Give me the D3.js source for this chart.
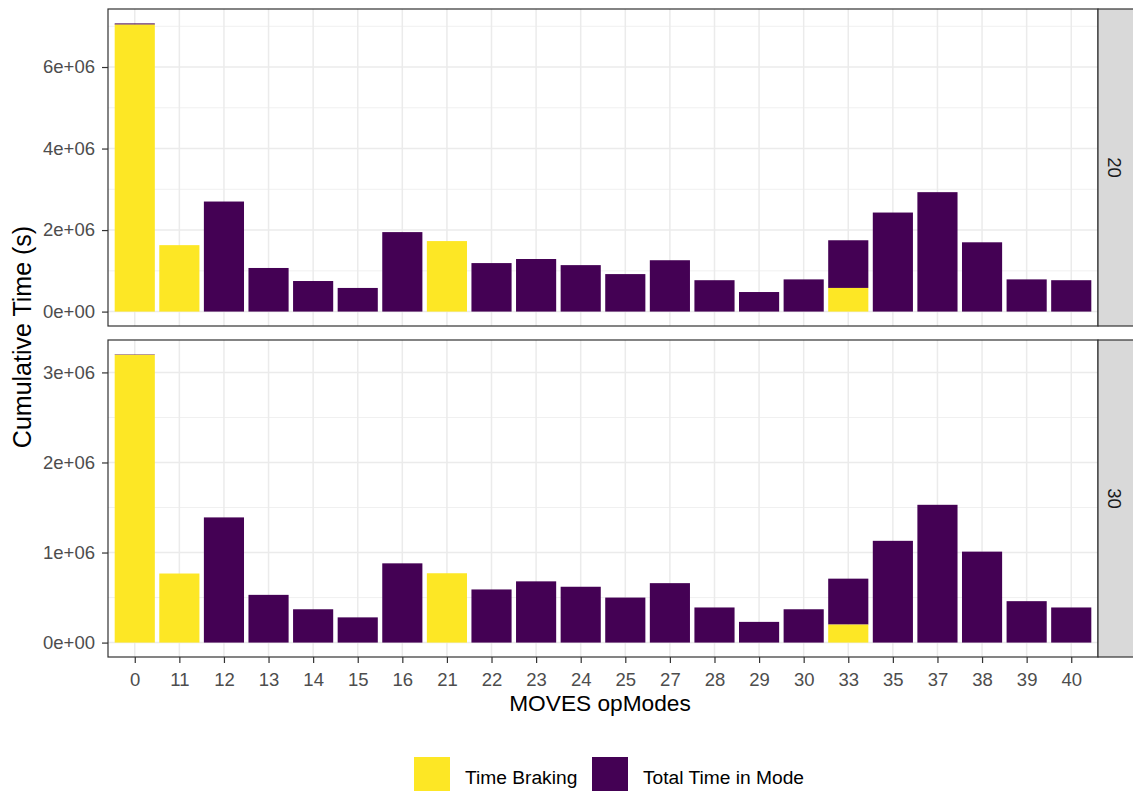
<!DOCTYPE html>
<html>
<head>
<meta charset="utf-8">
<script src="https://cdn.jsdelivr.net/npm/d3@7"></script>
<style>
  body { margin: 0; background: #fff; }
  text { font-family: "Liberation Sans", Arial, sans-serif; }
  .tick text { fill: #4d4d4d; font-size: 18.5px; font-family: "Liberation Sans", Arial, sans-serif; }
  .tick line { stroke: #333; }
  .domain { display: none; }
</style>
</head>
<body>
<div id="chart"></div>
<script>
// opModes on the x axis
var opModes = ["0","11","12","13","14","15","16","21","22","23","24","25","27","28","29","30","33","35","37","38","39","40"];

// facet 20
var total20   = [7.07e6,1.63e6,2.70e6,1.07e6,0.75e6,0.58e6,1.95e6,1.73e6,1.19e6,1.29e6,1.14e6,0.92e6,1.26e6,0.77e6,0.48e6,0.79e6,1.75e6,2.43e6,2.93e6,1.70e6,0.79e6,0.77e6];
var braking20 = [7.04e6,1.63e6,0,0,0,0,0,1.73e6,0,0,0,0,0,0,0,0,0.58e6,0,0,0,0,0];

// facet 30
var total30   = [3.20e6,0.767e6,1.39e6,0.53e6,0.37e6,0.28e6,0.88e6,0.77e6,0.59e6,0.68e6,0.62e6,0.50e6,0.66e6,0.39e6,0.23e6,0.37e6,0.71e6,1.13e6,1.53e6,1.01e6,0.46e6,0.39e6];
var braking30 = [3.195e6,0.767e6,0,0,0,0,0,0.77e6,0,0,0,0,0,0,0,0,0.20e6,0,0,0,0,0];

var facets = ["20", "30"];
var yTicks = [[0,2e6,4e6,6e6],[0,1e6,2e6,3e6]];
var seriesNames = ["Time Braking", "Total Time in Mode"];
var colors = {"Time Braking": "#FDE725", "Total Time in Mode": "#440154"};

var W = 1133, H = 791;
var svg = d3.select("#chart").append("svg").attr("width", W).attr("height", H);

var left = 108, right = 1098, stripW = 36;
var panels = [{top: 9, bottom: 326}, {top: 340, bottom: 657}];
var data = [[total20, braking20], [total30, braking30]];

// discrete scale with ggplot-style 0.6 expansion
var step = (right - left) / (opModes.length - 1 + 1.2);
var x = d3.scalePoint().domain(opModes).range([left + 0.6 * step, right - 0.6 * step]);
var barW = step * 0.9;

function fmt(v) {
  if (v === 0) return "0e+00";
  var e = Math.floor(Math.log10(v));
  return Math.round(v / Math.pow(10, e)) + "e+" + (e < 10 ? "0" + e : e);
}

panels.forEach(function(p, i) {
  var tot = data[i][0], brk = data[i][1];
  var M = d3.max(tot);
  var y = d3.scaleLinear().domain([-0.05 * M, 1.05 * M]).range([p.bottom, p.top]);

  var g = svg.append("g");
  g.append("rect").attr("x", left).attr("y", p.top).attr("width", right - left).attr("height", p.bottom - p.top)
    .attr("fill", "#fff");

  // minor grid
  var tk = yTicks[i];
  var minor = [];
  for (var k = 0; k < tk.length; k++) {
    var mv = tk[k] + (tk[1] - tk[0]) / 2;
    if (y(mv) > p.top) minor.push(mv);
  }
  g.selectAll(".minor").data(minor).enter().append("line")
    .attr("x1", left).attr("x2", right).attr("y1", d => y(d)).attr("y2", d => y(d))
    .attr("stroke", "#f0f0f0").attr("stroke-width", 1);
  // major grid
  g.selectAll(".hmajor").data(tk).enter().append("line")
    .attr("x1", left).attr("x2", right).attr("y1", d => y(d)).attr("y2", d => y(d))
    .attr("stroke", "#ebebeb").attr("stroke-width", 1.5);
  g.selectAll(".vmajor").data(opModes).enter().append("line")
    .attr("x1", d => x(d)).attr("x2", d => x(d)).attr("y1", p.top).attr("y2", p.bottom)
    .attr("stroke", "#ebebeb").attr("stroke-width", 1.5);

  // braking at the bottom, rest of total stacked on top
  g.selectAll(".tot").data(opModes.filter((d, j) => tot[j] > brk[j])).enter().append("rect")
    .attr("x", d => x(d) - barW / 2).attr("width", barW)
    .attr("y", d => y(tot[opModes.indexOf(d)]))
    .attr("height", d => y(brk[opModes.indexOf(d)]) - y(tot[opModes.indexOf(d)]))
    .attr("fill", colors["Total Time in Mode"]);
  g.selectAll(".brk").data(opModes.filter((d, j) => brk[j] > 0)).enter().append("rect")
    .attr("x", d => x(d) - barW / 2).attr("width", barW)
    .attr("y", d => y(brk[opModes.indexOf(d)])).attr("height", d => y(0) - y(brk[opModes.indexOf(d)]))
    .attr("fill", colors["Time Braking"]);

  // panel border
  g.append("rect").attr("x", left).attr("y", p.top).attr("width", right - left).attr("height", p.bottom - p.top)
    .attr("fill", "none").attr("stroke", "#333").attr("stroke-width", 1.2);

  // y axis
  var ya = g.append("g").attr("transform", "translate(" + left + ",0)")
    .call(d3.axisLeft(y).tickValues(tk).tickFormat(fmt).tickSize(6).tickPadding(7));
  ya.selectAll(".tick line").attr("stroke-width", 1.2);

  // strip
  g.append("rect").attr("x", right).attr("y", p.top).attr("width", stripW).attr("height", p.bottom - p.top)
    .attr("fill", "#d9d9d9").attr("stroke", "#333").attr("stroke-width", 1.2);
  g.append("text").attr("transform", "translate(" + (right + 10) + "," + ((p.top + p.bottom) / 2) + ") rotate(90)")
    .attr("text-anchor", "middle").attr("font-size", 18.5).attr("fill", "#1a1a1a").text(facets[i]);

  if (i === 1) {
    var xa = g.append("g").attr("transform", "translate(0," + p.bottom + ")")
      .call(d3.axisBottom(x).tickSize(6).tickPadding(10));
    xa.selectAll(".tick line").attr("stroke-width", 1.2);
  }
});

// axis titles
svg.append("text").attr("transform", "translate(31,337) rotate(-90)").attr("text-anchor", "middle")
  .attr("font-size", 25).attr("fill", "#000").text("Cumulative Time (s)");
svg.append("text").attr("x", 600).attr("y", 711).attr("text-anchor", "middle")
  .attr("font-size", 22.7).attr("fill", "#000").text("MOVES opModes");

// legend
var legX = [414, 592];
var leg = svg.append("g");
seriesNames.forEach(function(n, i) {
  leg.append("rect").attr("x", legX[i]).attr("y", 757).attr("width", 36).attr("height", 34).attr("fill", colors[n]);
  leg.append("text").attr("x", legX[i] + 51).attr("y", 784).attr("font-size", 19.2).attr("fill", "#000").text(n);
});
</script>
</body>
</html>
